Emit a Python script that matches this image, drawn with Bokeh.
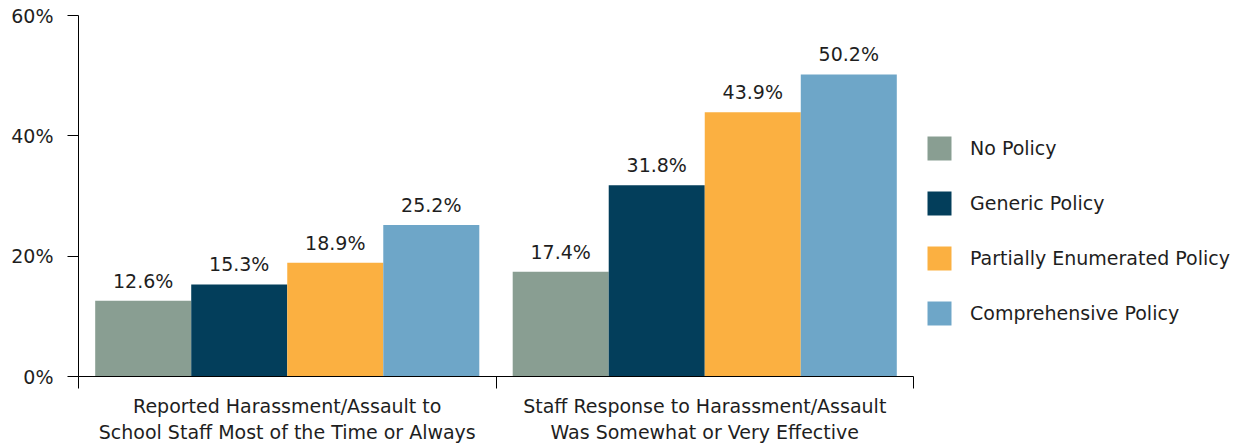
from bokeh.plotting import figure
from bokeh.models import (Range1d, LinearAxis, FixedTicker, PrintfTickFormatter,
                          ColumnDataSource, Legend, LegendItem)
from bokeh.transform import dodge
from bokeh.core.properties import value
from bokeh.embed import file_html
from bokeh.resources import INLINE

groups = ["Reported Harassment/Assault to\nSchool Staff Most of the Time or Always",
          "Staff Response to Harassment/Assault\nWas Somewhat or Very Effective"]
series = ["No Policy", "Generic Policy", "Partially Enumerated Policy", "Comprehensive Policy"]
no_policy = [12.6, 17.4]
generic_policy = [15.3, 31.8]
partial_policy = [18.9, 43.9]
comprehensive_policy = [25.2, 50.2]
colors = ["#899E92", "#033E5B", "#FBB041", "#6EA6C8"]
y_ticks = [0, 20, 40, 60]

FONT = "DejaVu Sans"
TXT = "#1e1e1e"

centers = [i + 0.5 for i in range(len(groups))]

p = figure(frame_width=835, frame_height=361, output_backend="svg", toolbar_location=None,
           x_range=Range1d(0, len(groups)), y_range=Range1d(0, 60), x_axis_location=None,
           min_border_left=78, min_border_top=15, min_border_bottom=60, min_border_right=300)
p.outline_line_color = None
p.grid.visible = False
p.border_fill_color = "white"

offsets = [-0.345, -0.115, 0.115, 0.345]
vals = [no_policy, generic_policy, partial_policy, comprehensive_policy]
items = []
for name, v, c, off in zip(series, vals, colors, offsets):
    src = ColumnDataSource(dict(x=centers, top=v, label=[f"{t:.1f}%" for t in v]))
    r = p.vbar(x=dodge("x", off), top="top", width=0.23, source=src,
               fill_color=c, line_color=None)
    p.text(x=dodge("x", off), y="top", text="label", source=src,
           text_align="center", text_baseline="bottom", y_offset=-9,
           text_font=value(FONT), text_font_size="19px", text_color=TXT)
    items.append(LegendItem(label=name, renderers=[r]))

# y axis
p.yaxis.ticker = FixedTicker(ticks=y_ticks, minor_ticks=[])
p.yaxis.formatter = PrintfTickFormatter(format="%d%%")
p.yaxis.major_tick_out = 11
p.yaxis.major_tick_in = 0
p.yaxis.major_tick_line_color = "black"
p.yaxis.axis_line_color = "black"
p.yaxis.major_label_standoff = 14
p.yaxis.major_label_text_font = FONT
p.yaxis.major_label_text_font_size = "19px"
p.yaxis.major_label_text_color = TXT

# x axis (boundary ticks via minor ticks, labels at centres)
xaxis = LinearAxis(ticker=FixedTicker(ticks=centers,
                                      minor_ticks=list(range(len(groups) + 1))),
                   major_label_overrides={c: g for c, g in zip(centers, groups)},
                   major_tick_out=0, major_tick_in=0,
                   minor_tick_out=12, minor_tick_in=0, minor_tick_line_color="black",
                   axis_line_color="black", major_label_standoff=6,
                   major_label_text_font=FONT, major_label_text_font_size="19px",
                   major_label_text_color=TXT)
p.add_layout(xaxis, "below")

legend = Legend(items=items, location=(11, 48), margin=0, padding=0,
                border_line_color=None, background_fill_alpha=0,
                glyph_width=30, glyph_height=30, label_standoff=16, spacing=25,
                label_text_font=FONT, label_text_font_size="19px", label_text_color=TXT)
p.add_layout(legend, "right")

open("out.html", "w").write(file_html(p, INLINE))
